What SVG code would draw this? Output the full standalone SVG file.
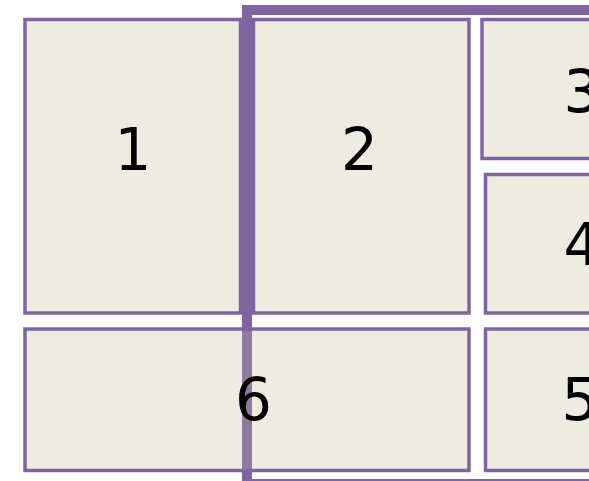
<svg xmlns="http://www.w3.org/2000/svg" width="589" height="481" viewBox="0 0 589 481">
<style>
.box{fill:#EEECE1;stroke:#8064A2;stroke-width:3.5}
.lbl{font-family:"DejaVu Sans",sans-serif;font-size:58px;fill:#000;text-anchor:middle}
</style>
<rect width="589" height="481" fill="#fff"/>
<g id="node1"><rect class="box" x="25" y="19.5" width="215.5" height="293.5"/><text class="lbl" x="133" y="170">1</text></g>
<g id="node2"><rect class="box" x="253.5" y="19.5" width="215.5" height="293.5"/><text class="lbl" x="359.5" y="170">2</text></g>
<g id="node3"><rect class="box" x="482" y="19.5" width="150" height="139"/><text class="lbl" x="582" y="112">3</text></g>
<g id="node4"><rect class="box" x="485.5" y="174.5" width="150" height="138.5"/><text class="lbl" x="582" y="265">4</text></g>
<g id="node5"><rect class="box" x="485.5" y="329" width="150" height="141.5"/><text class="lbl" x="580" y="420">5</text></g>
<g id="node6"><rect class="box" x="25" y="329" width="444" height="141.5"/></g>
<g id="connectors">
<rect x="247" y="10" width="400" height="474" fill="none" stroke="#8064A2" stroke-width="10"/>
<rect x="242" y="331" width="10" height="138" fill="#907AA0"/>
</g>
<text class="lbl" x="253.5" y="420">6</text>
</svg>
